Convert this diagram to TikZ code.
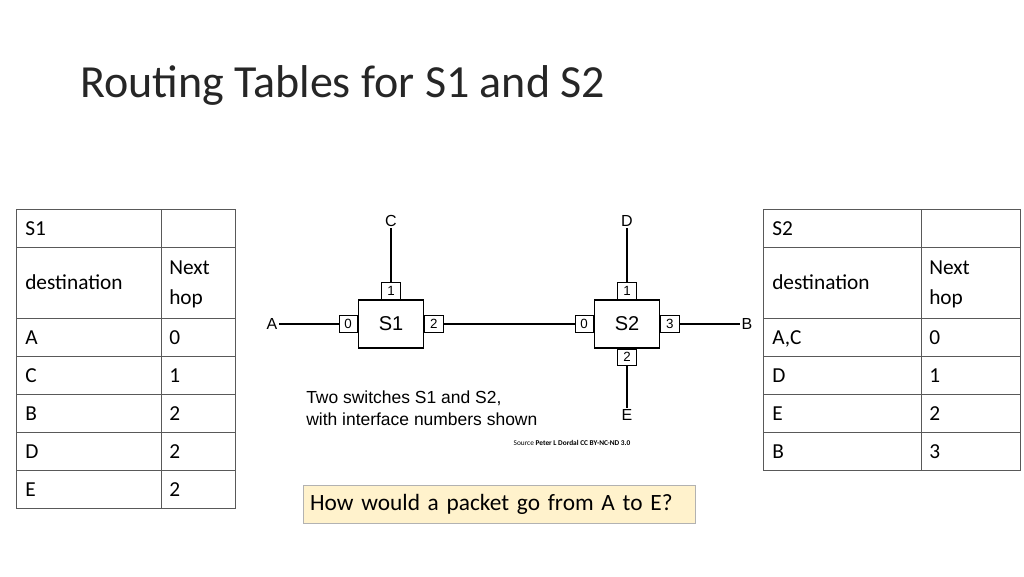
\documentclass[tikz,border=0pt]{standalone}
\usepackage{fontspec}
\setmainfont{Carlito}
\newfontfamily\arialfont{Liberation Sans}
\usetikzlibrary{positioning}
\definecolor{notefill}{HTML}{FFF2CC}

\begin{document}
\begin{tikzpicture}[
    x=0.75pt, y=-0.75pt,
    every node/.style={font=\fontsize{16}{22.5}\selectfont},
    celltxt/.style={anchor=base west, align=left, inner sep=0pt},
    switchbox/.style={rectangle, draw, thick, minimum width=49pt, minimum height=36pt, font=\arialfont\fontsize{15}{18}\selectfont},
    portbox/.style={rectangle, draw, minimum width=14pt, minimum height=12.5pt, inner sep=0pt, font=\arialfont\fontsize{10}{11}\selectfont},
    endlabel/.style={font=\arialfont\fontsize{12}{14}\selectfont, inner sep=1pt},
    link/.style={thick}
  ]
  \useasboundingbox (0,0) rectangle (1024,576);

  % ---------------- Titulo ----------------
  \node (titulo) [anchor=west, inner sep=0pt, font=\fontsize{34.5}{40}\selectfont, text=black!85] at (80,85) {Routing Tables for S1 and S2};

  % ---------------- Tabla S1 ----------------
  \draw[gray!70!black] (16,209) rectangle (235,508);
  \draw[gray!70!black] (161,209) -- (161,508);
  \foreach \y in {247,318,356,394,432,470}
    \draw[gray!70!black] (16,\y) -- (235,\y);
  \node (t1h) [celltxt] at (25,235) {S1};
  \node (t1d) [celltxt] at (25,289) {destination};
  \node (t1n) [celltxt] at (169,304) {Next\\hop};
  \foreach \d/\h [count=\i] in {A/0, C/1, B/2, D/2, E/2} {
    \node (t1r\i) [celltxt] at (25,306+38*\i) {\d};
    \node (t1s\i) [celltxt] at (169,306+38*\i) {\h};
  }

  % ---------------- Tabla S2 ----------------
  \draw[gray!70!black] (763,209) rectangle (1020,470);
  \draw[gray!70!black] (921,209) -- (921,470);
  \foreach \y in {247,318,356,394,432}
    \draw[gray!70!black] (763,\y) -- (1020,\y);
  \node (t2h) [celltxt] at (772,235) {S2};
  \node (t2d) [celltxt] at (772,289) {destination};
  \node (t2n) [celltxt] at (929,304) {Next\\hop};
  \foreach \d/\h [count=\i] in {{A,C}/0, D/1, E/2, B/3} {
    \node (t2r\i) [celltxt] at (772,306+38*\i) {\d};
    \node (t2s\i) [celltxt] at (929,306+38*\i) {\h};
  }

  % ---------------- Switches ----------------
  \node (s1) [switchbox] at (391,324) {S1};
  \node (s2) [switchbox] at (627,324) {S2};

  % puertos
  \node (s1p0) [portbox, anchor=east] at (s1.west) {0};
  \node (s1p1) [portbox, anchor=south] at (s1.north) {1};
  \node (s1p2) [portbox, anchor=west] at (s1.east) {2};
  \node (s2p0) [portbox, anchor=east] at (s2.west) {0};
  \node (s2p1) [portbox, anchor=south] at (s2.north) {1};
  \node (s2p2) [portbox, anchor=north] at (s2.south) {2};
  \node (s2p3) [portbox, anchor=west] at (s2.east) {3};

  % extremos
  \node (A) [endlabel, anchor=east] at (279,324) {A};
  \node (B) [endlabel, anchor=west] at (740,324) {B};
  \node (C) [endlabel, anchor=south] at (391,228) {C};
  \node (D) [endlabel, anchor=south] at (627,228) {D};
  \node (E) [endlabel, anchor=north] at (627,408) {E};

  \draw[link] (A) -- (s1p0);
  \draw[link] (C) -- (s1p1);
  \draw[link] (s1p2) -- (s2p0);
  \draw[link] (D) -- (s2p1);
  \draw[link] (s2p2) -- (E);
  \draw[link] (s2p3) -- (B);

  % Nota
  \node (nota) [anchor=north west, align=left, inner sep=0pt, font=\arialfont\fontsize{13.1}{16}\selectfont] at (306,391) {Two switches S1 and S2,\\with interface numbers shown};
  \node (fuente) [font=\fontsize{5.5}{7}\selectfont, inner sep=0pt] at (572,443) {Source \textbf{Peter L Dordal CC BY-NC-ND 3.0}};

  % Pregunta
  \node (pregunta) [draw=gray!60, fill=notefill, text width=284pt, align=left, inner xsep=5pt, minimum height=28.5pt, inner ysep=0pt, font=\fontsize{17.5}{20}\selectfont] at (499.5,504) {How would a packet go from A to E?};
\end{tikzpicture}
\end{document}
